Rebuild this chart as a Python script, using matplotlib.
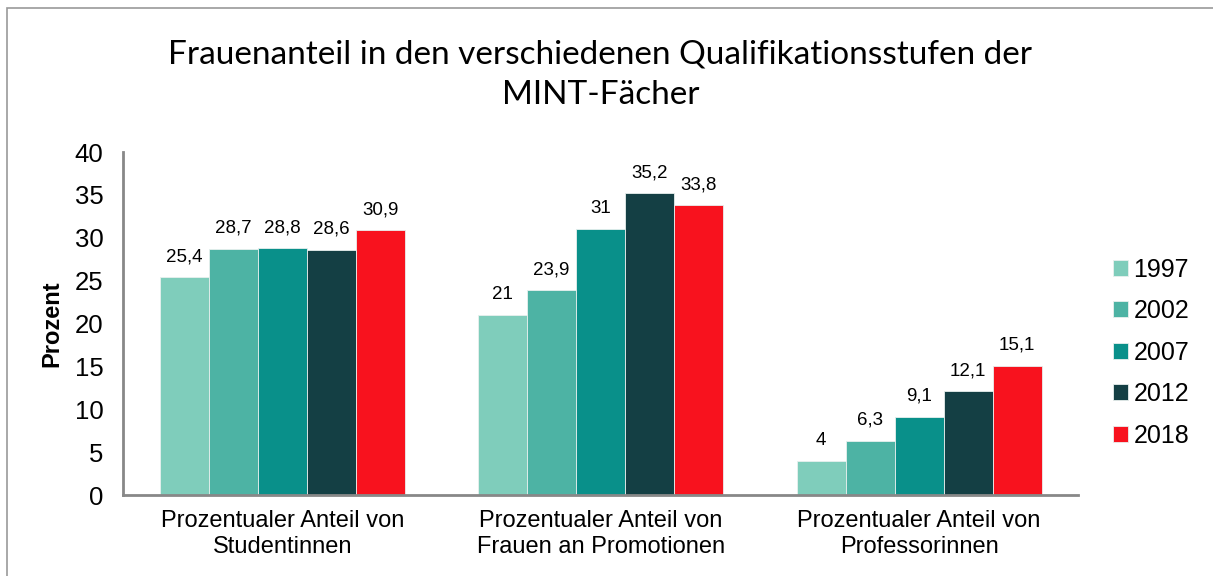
import numpy as np
import matplotlib.pyplot as plt
from matplotlib.patches import Rectangle

categories = ["Prozentualer Anteil von\nStudentinnen",
              "Prozentualer Anteil von\nFrauen an Promotionen",
              "Prozentualer Anteil von\nProfessorinnen"]
years = ["1997", "2002", "2007", "2012", "2018"]
values_1997 = [25.4, 21, 4]
values_2002 = [28.7, 23.9, 6.3]
values_2007 = [28.8, 31, 9.1]
values_2012 = [28.6, 35.2, 12.1]
values_2018 = [30.9, 33.8, 15.1]
colors = ["#7FCDBB", "#4DB3A4", "#09908A", "#143F44", "#F8121E"]

series = [values_1997, values_2002, values_2007, values_2012, values_2018]

plt.rcParams['font.family'] = ['Liberation Sans', 'DejaVu Sans']

fig = plt.figure(figsize=(12.13, 5.76), dpi=100)
ax = fig.add_axes([0.1014, 0.1406, 0.7876, 0.5955])

x = np.arange(len(categories))
width = 0.154
for i, vals in enumerate(series):
    pos = x + (i - 2) * width
    bars = ax.bar(pos, vals, width, color=colors[i], label=years[i],
                  edgecolor="#e8f0ee", linewidth=0.6)
    for b, v in zip(bars, vals):
        label = f"{v:g}".replace(".", ",")
        ax.text(b.get_x() + b.get_width() / 2, v + 1.4, label,
                ha="center", va="bottom", fontsize=13.5)

ax.set_xlim(-0.5, 2.5)
ax.set_ylim(0, 40)
ax.set_yticks(range(0, 41, 5))
ax.tick_params(axis="y", labelsize=18.5, length=0, pad=14)
ax.tick_params(axis="x", labelsize=17, length=0, pad=11)
ax.set_xticks(x)
ax.set_xticklabels(categories)
ax.set_ylabel("Prozent", fontsize=17, fontweight="bold", labelpad=8)

for s in ["top", "right"]:
    ax.spines[s].set_visible(False)
for s in ["left", "bottom"]:
    ax.spines[s].set_color("#888888")
    ax.spines[s].set_linewidth(2)

fig.text(0.495, 0.87, "Frauenanteil in den verschiedenen Qualifikationsstufen der\nMINT-Fächer",
         ha="center", va="center", fontsize=24, family=["Lato", "DejaVu Sans"],
         linespacing=1.45)

ax.legend(loc="center left", bbox_to_anchor=(1.013, 0.415), frameon=False,
          fontsize=18, handlelength=0.6, handleheight=0.6, labelspacing=0.7,
          handletextpad=0.2)

fig.patches.append(Rectangle((7 / 1213, -0.2), 1.5, 1.2 - 8 / 576,
                             transform=fig.transFigure, fill=False,
                             edgecolor="#999999", linewidth=1.2))

fig.savefig("out.png", dpi=100)
